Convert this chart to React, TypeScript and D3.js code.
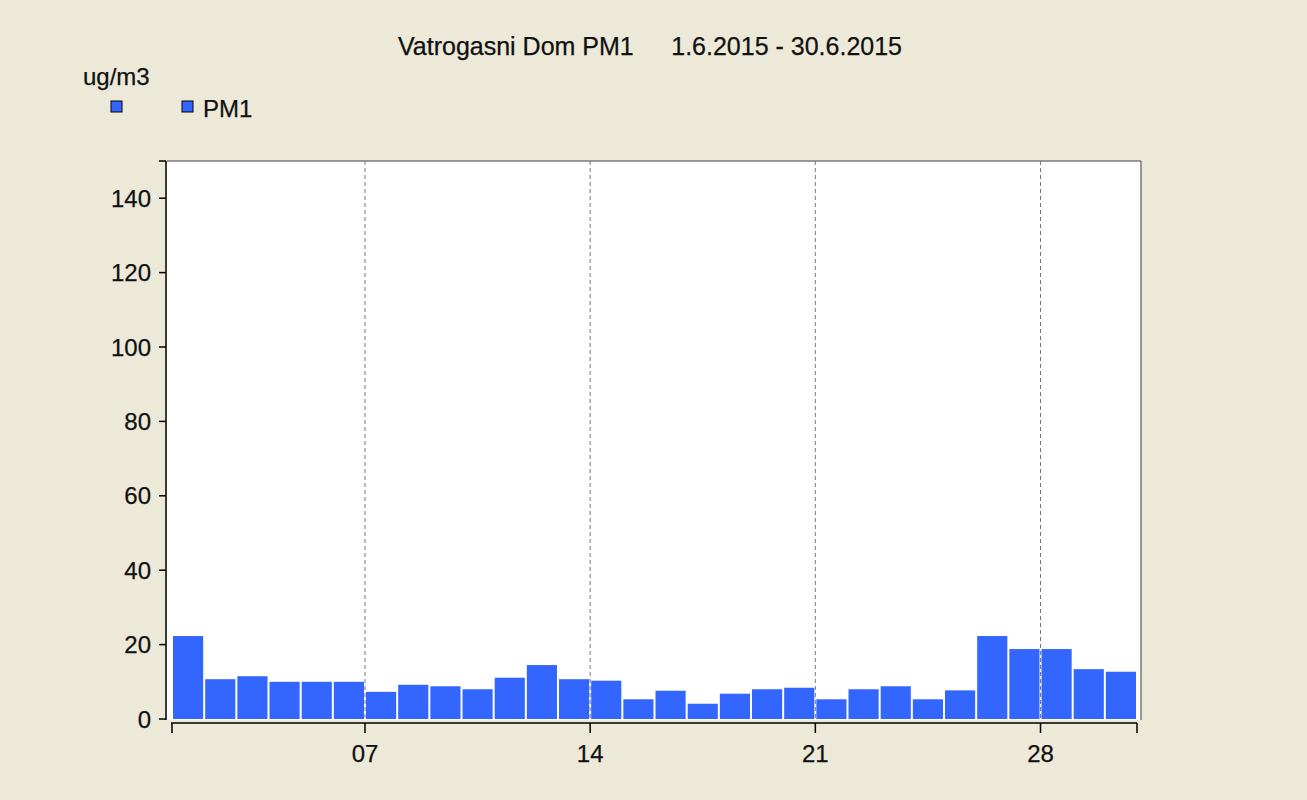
import React, { useRef, useEffect } from 'react';
import * as d3 from 'd3';

// PM1 daily values, June 2015 (ug/m3)
const pm1 = [22.3, 10.7, 11.5, 10.0, 10.0, 10.0, 7.3, 9.2, 8.8, 8.0,
  11.1, 14.5, 10.7, 10.3, 5.3, 7.6, 4.1, 6.8, 8.0, 8.4,
  5.3, 8.0, 8.8, 5.3, 7.7, 22.3, 18.8, 18.8, 13.4, 12.7];
const yTicks = [0, 20, 40, 60, 80, 100, 120, 140];
const xTickDays = [7, 14, 21, 28];
const xTickLabels = ['07', '14', '21', '28'];

const App = () => {
  const ref = useRef<SVGSVGElement>(null);

  useEffect(() => {
    const svg = d3.select(ref.current);
    svg.selectAll('*').remove();

    const W = 1307, H = 800;
    const font = 'Liberation Sans, Arial, sans-serif';
    const txt = (sel) => sel.attr('font-family', font).attr('fill', '#111')
      .attr('stroke', '#111').attr('stroke-width', 0.25);

    svg.append('rect').attr('width', W).attr('height', H).attr('fill', '#ECE9D8');

    // plot area
    const left = 172, right = 1137, top = 161, bottom = 719;
    const x = d3.scaleLinear().domain([0, 30]).range([left, right]);
    const y = d3.scaleLinear().domain([0, 150]).range([bottom, top]);

    svg.append('rect')
      .attr('x', 167).attr('y', top)
      .attr('width', 1141 - 167).attr('height', bottom + 1 - top)
      .attr('fill', '#fff');

    // frame top / right
    svg.append('line').attr('x1', 167).attr('x2', 1141).attr('y1', top).attr('y2', top)
      .attr('stroke', '#7a7a7a').attr('stroke-width', 1.5);
    svg.append('line').attr('x1', 1141).attr('x2', 1141).attr('y1', top).attr('y2', bottom + 1)
      .attr('stroke', '#7a7a7a').attr('stroke-width', 1.5);

    // dashed grid
    xTickDays.forEach(d => {
      svg.append('line')
        .attr('x1', x(d - 1)).attr('x2', x(d - 1))
        .attr('y1', top).attr('y2', bottom)
        .attr('stroke', '#777').attr('stroke-dasharray', '4,3').attr('stroke-width', 1);
    });

    // bars
    svg.append('g').selectAll('rect')
      .data(pm1)
      .join('rect')
      .attr('x', (d, i) => x(i) + 1)
      .attr('width', (d, i) => x(i + 1) - x(i) - 2)
      .attr('y', d => y(d))
      .attr('height', d => y(0) - y(d))
      .attr('fill', '#3366FF');

    // y axis
    svg.append('line').attr('x1', 166).attr('x2', 166).attr('y1', top).attr('y2', 720)
      .attr('stroke', '#000').attr('stroke-width', 1.5);
    [...yTicks, 150].forEach(v => {
      svg.append('line').attr('x1', 159).attr('x2', 166).attr('y1', y(v)).attr('y2', y(v))
        .attr('stroke', '#000').attr('stroke-width', 1.5);
    });
    svg.append('g').selectAll('text')
      .data(yTicks)
      .join('text')
      .attr('x', 151)
      .attr('y', d => y(d))
      .attr('dy', '0.36em')
      .attr('text-anchor', 'end')
      .attr('font-size', 24)
      .call(txt)
      .text(d => d);

    // x axis
    svg.append('line').attr('x1', left - 1).attr('x2', right).attr('y1', 723).attr('y2', 723)
      .attr('stroke', '#000').attr('stroke-width', 1.5);
    [0, ...xTickDays.map(d => d - 1), 30].forEach(v => {
      svg.append('line').attr('x1', x(v)).attr('x2', x(v)).attr('y1', 723).attr('y2', 733)
        .attr('stroke', '#000').attr('stroke-width', 1.5);
    });
    svg.append('g').selectAll('text')
      .data(xTickDays)
      .join('text')
      .attr('x', d => x(d - 1))
      .attr('y', 762)
      .attr('text-anchor', 'middle')
      .attr('font-size', 24)
      .call(txt)
      .text((d, i) => xTickLabels[i]);

    // title
    svg.append('text').attr('x', 398).attr('y', 55)
      .attr('font-size', 25).call(txt)
      .text('Vatrogasni Dom PM1');
    svg.append('text').attr('x', 902).attr('y', 55).attr('text-anchor', 'end')
      .attr('font-size', 25).call(txt)
      .text('1.6.2015 - 30.6.2015');

    // unit + legend
    svg.append('text').attr('x', 83).attr('y', 85)
      .attr('font-size', 24).call(txt)
      .text('ug/m3');
    [111, 182].forEach(px => {
      svg.append('rect').attr('x', px).attr('y', 101).attr('width', 11).attr('height', 11)
        .attr('fill', '#3366FF').attr('stroke', '#000').attr('stroke-width', 1);
    });
    svg.append('text').attr('x', 203).attr('y', 117)
      .attr('font-size', 24).call(txt)
      .text('PM1');
  }, []);

  return (
    <div style={{ position: 'absolute', left: 0, top: 0 }}>
      <svg ref={ref} width={1307} height={800} style={{ display: 'block' }}></svg>
    </div>
  );
};

export default App;
